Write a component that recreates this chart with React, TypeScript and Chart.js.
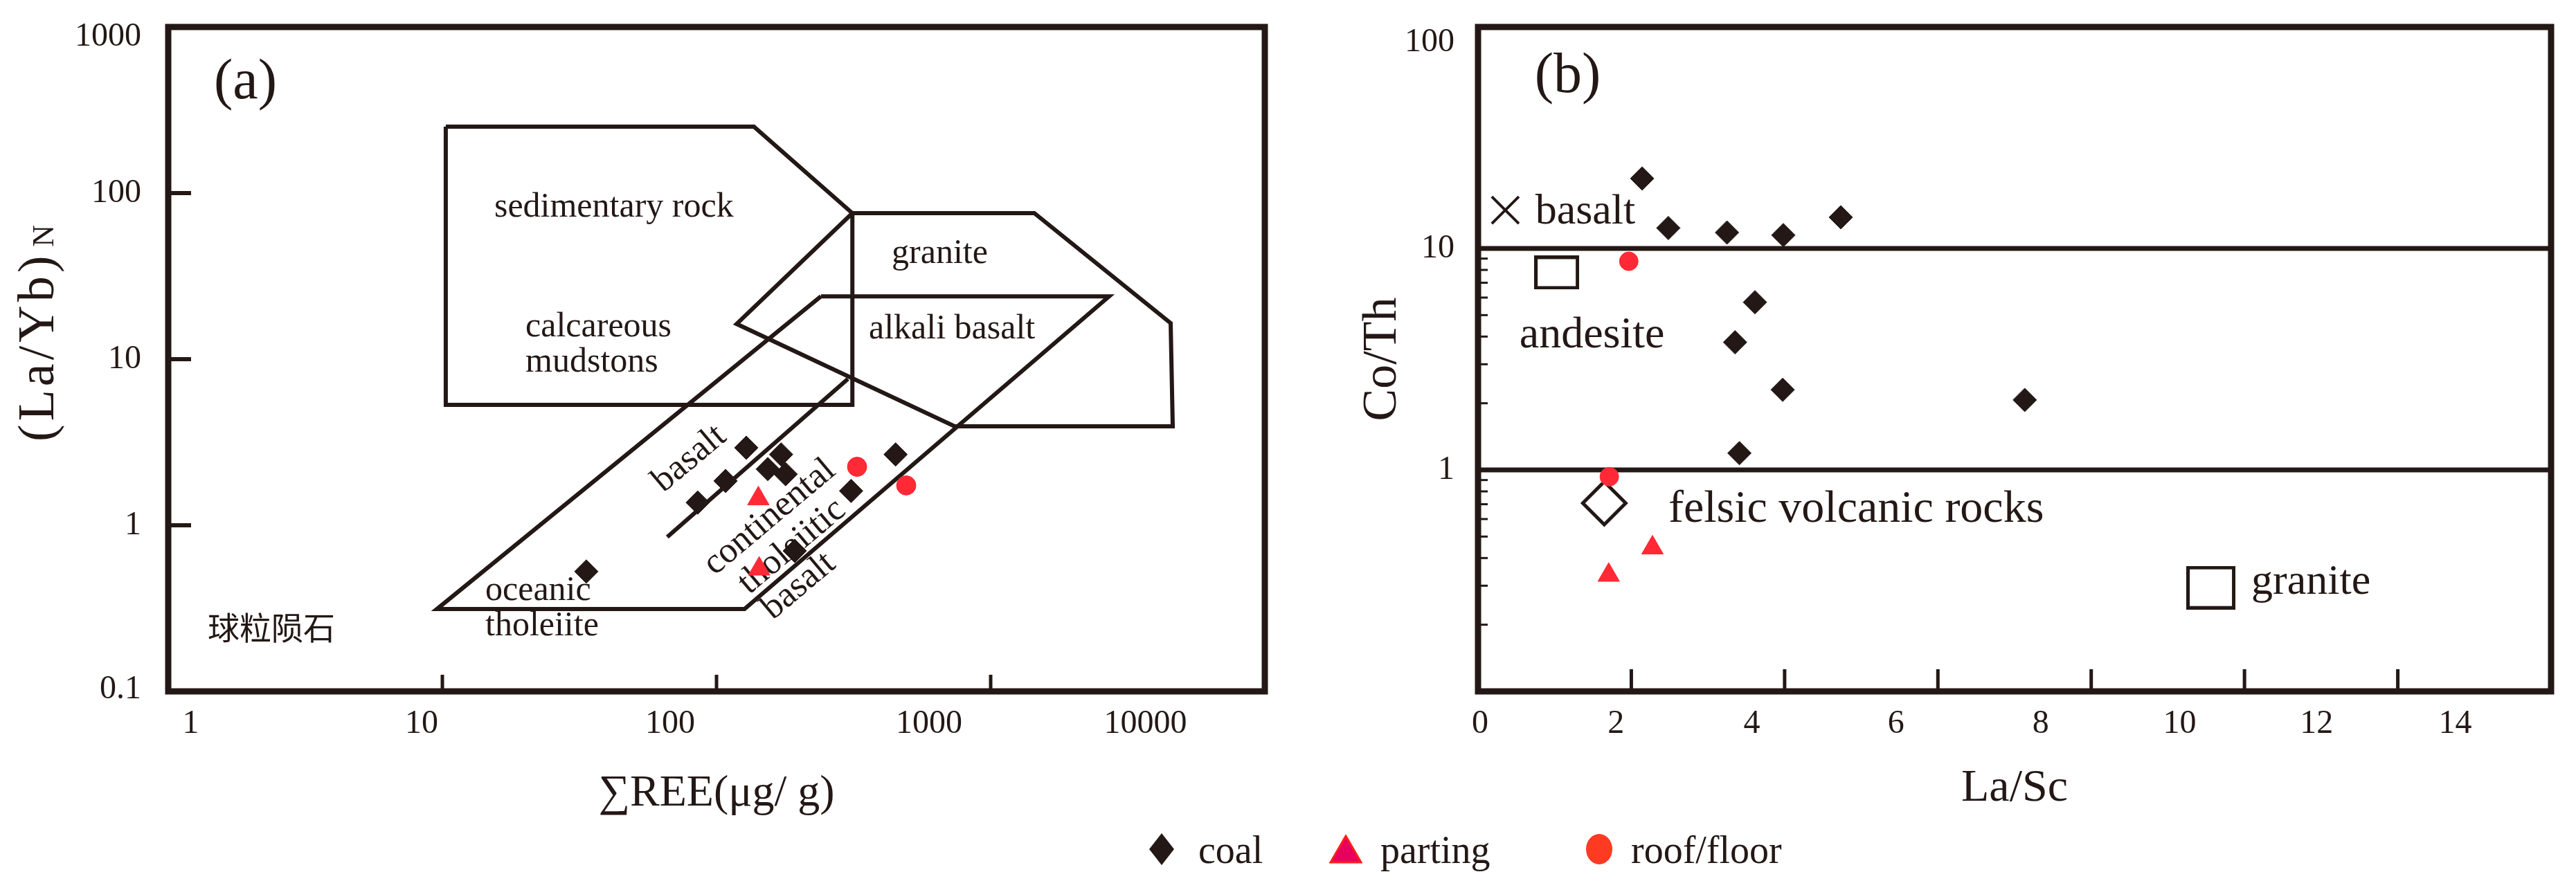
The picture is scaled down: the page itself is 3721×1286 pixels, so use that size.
import React, { useEffect, useRef } from 'react';
import { Chart, registerables } from 'chart.js';

Chart.register(...registerables);

const INK = '#231815';
const RED = '#ff2a36';
const FONT = '"Liberation Serif", "Times New Roman", serif';
const CJK = '"Noto Sans CJK SC", sans-serif';

// ---------------- Panel (a): ΣREE vs (La/Yb)N ----------------
const coalREE = [33.5, 85.4, 107.9, 128.4, 172, 153.8, 178.7, 450, 309.7, 192.9];
const coalLaYbN = [0.527, 1.37, 1.85, 2.93, 2.67, 2.18, 2.03, 2.67, 1.61, 0.701];
const partingREE = [142.1, 143.1];
const partingLaYbN = [1.446, 0.546];
const roofREE = [325.6, 492];
const roofLaYbN = [2.25, 1.738];

// field boundaries (ΣREE, (La/Yb)N)
const sedimentaryX = [10.29, 136.9, 313, 313, 10.29, 10.29];
const sedimentaryY = [251.2, 251.2, 75.7, 5.31, 5.31, 251.2];
const graniteFieldX = [313, 1443, 4535, 4615, 739, 118.4, 313];
const graniteFieldY = [75.7, 75.7, 16.47, 3.94, 3.94, 16.3, 75.7];
const basaltBandX = [240.5, 2704, 126.5, 9.55, 240.5];
const basaltBandY = [23.9, 23.9, 0.313, 0.313, 23.9];
const dividerX = [66.1, 301.5];
const dividerY = [0.849, 7.6];

const aXTickMarks = [10, 100, 1000];
const aXLabelPos = [1.208, 8.4, 67.7, 596, 3667];
const aXLabels = ['1', '10', '100', '1000', '10000'];
const aYTickMarks = [1, 10, 100];
const aYLabelPos = [0.103, 1, 10, 100, 873];
const aYLabels = ['0.1', '1', '10', '100', '1000'];

const aFieldNames = ['(a)', 'sedimentary rock', 'calcareous', 'mudstons', 'granite', 'alkali basalt', 'oceanic', 'tholeiite', '球粒陨石', 'basalt', 'continental', 'tholeiitic', 'basalt'];

// ---------------- Panel (b): La/Sc vs Co/Th ----------------
const coalLaSc = [2.141, 2.483, 3.248, 3.983, 4.733, 3.613, 3.353, 3.975, 3.41, 7.133];
const coalCoTh = [20.7, 12.37, 11.8, 11.49, 13.83, 5.72, 3.77, 2.3, 1.19, 2.07];
const partingLaSc = [2.276, 1.705];
const partingCoTh = [0.445, 0.335];
const roofLaSc = [1.967, 1.713];
const roofCoTh = [8.75, 0.932];

const refRocks = ['basalt', 'andesite', 'felsic volcanic rocks', 'granite'];
const refLaSc = [0.356, 1.026, 1.647, 9.561];
const refCoTh = [14.9, 7.78, 0.708, 0.294];
const boundaryCoTh = [10, 1];

const bXTickMarks = [2, 4, 6, 8, 10, 12];
const bXLabelPos = [0.027, 1.8, 3.572, 5.453, 7.342, 9.155, 10.94, 12.75];
const bXLabels = ['0', '2', '4', '6', '8', '10', '12', '14'];
const bYLabelPos = [1, 10, 85.4];
const bYLabels = ['1', '10', '100'];
const bYMinorTicks = [0.2, 0.3, 0.4, 0.5, 0.6, 0.7, 0.8, 0.9, 2, 3, 4, 5, 6, 7, 8, 9];

const groups = ['coal', 'parting', 'roof/floor'];

type Note = {
  text: string; x: number; y: number; size: number;
  rot?: number; align?: CanvasTextAlign; base?: CanvasTextBaseline; family?: string;
};

const aNotes: Note[] = [
  { text: aFieldNames[0], x: 1.468, y: 459.6, size: 82, base: 'middle' },
  { text: aFieldNames[1], x: 15.46, y: 72.5, size: 50 },
  { text: aFieldNames[2], x: 20.1, y: 13.68, size: 50 },
  { text: aFieldNames[3], x: 20.1, y: 8.4, size: 50 },
  { text: aFieldNames[4], x: 435.5, y: 38.1, size: 50 },
  { text: aFieldNames[5], x: 359.4, y: 13.34, size: 50 },
  { text: aFieldNames[6], x: 14.34, y: 0.355, size: 50 },
  { text: aFieldNames[7], x: 14.34, y: 0.218, size: 50 },
  { text: aFieldNames[8], x: 1.393, y: 0.2417, size: 46, base: 'middle', family: CJK },
  { text: aFieldNames[9], x: 79.7, y: 2.51, size: 52, rot: -40, align: 'center', base: 'middle' },
  { text: aFieldNames[10], x: 156.4, y: 1.117, size: 52, rot: -40, align: 'center', base: 'middle' },
  { text: aFieldNames[11], x: 188.5, y: 0.743, size: 52, rot: -40, align: 'center', base: 'middle' },
  { text: aFieldNames[12], x: 199.7, y: 0.43, size: 52, rot: -40, align: 'center', base: 'middle' },
];

const bNotes: Note[] = [
  { text: '(b)', x: 0.738, y: 59.2, size: 82, base: 'middle' },
  { text: refRocks[0], x: 0.747, y: 12.97, size: 62 },
  { text: refRocks[1], x: 0.54, y: 3.57, size: 64 },
  { text: refRocks[2], x: 2.483, y: 0.585, size: 66 },
  { text: refRocks[3], x: 10.09, y: 0.276, size: 62 },
];

const zip = (xs: number[], ys: number[]) => xs.map((x, i) => ({ x, y: ys[i] }));

function drawNotes(chart: any, notes: Note[]) {
  const ctx = chart.ctx as CanvasRenderingContext2D;
  const xs = chart.scales.x;
  const ys = chart.scales.y;
  notes.forEach((n) => {
    ctx.save();
    ctx.translate(xs.getPixelForValue(n.x), ys.getPixelForValue(n.y));
    if (n.rot) ctx.rotate((n.rot * Math.PI) / 180);
    ctx.font = `${n.size}px ${n.family || FONT}`;
    ctx.fillStyle = INK;
    ctx.textAlign = n.align || 'left';
    ctx.textBaseline = n.base || 'alphabetic';
    ctx.fillText(n.text, 0, 0);
    ctx.restore();
  });
}

function framePlugin(opts: {
  notes: Note[];
  xMarks: number[]; xMarkLen: number; xMarkW: number;
  yMarks: number[]; yMarkLen: number; yMarkW: number;
  yTitle?: boolean;
}) {
  return {
    id: 'frame',
    beforeDatasetsDraw(chart: any) {
      drawNotes(chart, opts.notes);
    },
    afterDatasetsDraw(chart: any) {
      const ctx = chart.ctx as CanvasRenderingContext2D;
      const { left, right, top, bottom } = chart.chartArea;
      const xs = chart.scales.x;
      const ys = chart.scales.y;
      ctx.save();
      ctx.strokeStyle = INK;
      ctx.lineCap = 'butt';
      ctx.lineWidth = opts.xMarkW;
      opts.xMarks.forEach((v) => {
        const px = xs.getPixelForValue(v);
        ctx.beginPath();
        ctx.moveTo(px, bottom);
        ctx.lineTo(px, bottom - opts.xMarkLen);
        ctx.stroke();
      });
      ctx.lineWidth = opts.yMarkW;
      opts.yMarks.forEach((v) => {
        const py = ys.getPixelForValue(v);
        ctx.beginPath();
        ctx.moveTo(left, py);
        ctx.lineTo(left + opts.yMarkLen, py);
        ctx.stroke();
      });
      ctx.lineWidth = 9;
      ctx.lineJoin = 'miter';
      ctx.strokeRect(left, top, right - left, bottom - top);
      ctx.restore();
    },
    afterDraw(chart: any) {
      if (!opts.yTitle) return;
      const ctx = chart.ctx as CanvasRenderingContext2D;
      ctx.save();
      ctx.translate(77, 638);
      ctx.rotate(-Math.PI / 2);
      ctx.fillStyle = INK;
      ctx.textAlign = 'left';
      ctx.textBaseline = 'alphabetic';
      ctx.font = `74px ${FONT}`;
      (ctx as any).letterSpacing = '5px';
      ctx.fillText('(La/Yb)', 0, 0);
      const w = ctx.measureText('(La/Yb)').width;
      (ctx as any).letterSpacing = '0px';
      ctx.font = `44px ${FONT}`;
      ctx.fillText('N', w + 8, 0);
      ctx.restore();
    },
  };
}

function makeRect(w: number, h: number, lw: number) {
  const c = document.createElement('canvas');
  c.width = w + lw;
  c.height = h + lw;
  const g = c.getContext('2d')!;
  g.strokeStyle = INK;
  g.lineWidth = lw;
  g.lineJoin = 'miter';
  g.strokeRect(lw / 2, lw / 2, w, h);
  return c;
}

const tickFont = { size: 48, family: FONT };

const fitX = (h: number) => (s: any) => {
  s.height = h;
  s.paddingLeft = 0;
  s.paddingRight = 0;
};
const fitY = (w: number) => (s: any) => {
  s.width = w;
  s.paddingTop = 0;
  s.paddingBottom = 0;
};

const fieldLine = { showLine: true, pointRadius: 0, borderColor: INK, borderWidth: 6, borderJoinStyle: 'miter', fill: false };

function configA(): any {
  return {
    type: 'scatter',
    data: {
      datasets: [
        { label: groups[0], data: zip(coalREE, coalLaYbN), pointStyle: 'rectRot', pointRadius: 17, backgroundColor: INK, borderColor: INK, borderWidth: 1 },
        { label: groups[1], data: zip(partingREE, partingLaYbN), pointStyle: 'triangle', pointRadius: 18, backgroundColor: RED, borderColor: RED, borderWidth: 1 },
        { label: groups[2], data: zip(roofREE, roofLaYbN), pointStyle: 'circle', pointRadius: 14, backgroundColor: RED, borderColor: RED, borderWidth: 1 },
        { label: 'sedimentary', data: zip(sedimentaryX, sedimentaryY), ...fieldLine },
        { label: 'granite field', data: zip(graniteFieldX, graniteFieldY), ...fieldLine },
        { label: 'basalt band', data: zip(basaltBandX, basaltBandY), ...fieldLine },
        { label: 'divider', data: zip(dividerX, dividerY), ...fieldLine },
      ],
    },
    options: {
      responsive: false,
      animation: false,
      devicePixelRatio: 1,
      layout: { padding: { left: 0, top: 39, right: 73, bottom: 0 } },
      plugins: { legend: { display: false }, tooltip: { enabled: false } },
      scales: {
        x: {
          type: 'logarithmic', min: 1, max: 10000, position: 'bottom',
          afterBuildTicks: (s: any) => { s.ticks = aXLabelPos.map((v) => ({ value: v })); },
          afterFit: fitX(201),
          ticks: { autoSkip: false, maxRotation: 0, minRotation: 0, padding: 19, font: tickFont, color: INK, callback: (_v: any, i: number) => aXLabels[i] },
          grid: { display: false, drawTicks: false },
          border: { display: false },
          title: { display: true, text: '∑REE(μg/ g)', color: INK, font: { size: 64, family: FONT }, padding: { top: 0, bottom: 14 } },
        },
        y: {
          type: 'logarithmic', min: 0.1, max: 1000, position: 'left',
          afterBuildTicks: (s: any) => { s.ticks = aYLabelPos.map((v) => ({ value: v })); },
          afterFit: fitY(243),
          ticks: { autoSkip: false, padding: 39, font: tickFont, color: INK, callback: (_v: any, i: number) => aYLabels[i] },
          grid: { display: false, drawTicks: false },
          border: { display: false },
        },
      },
    },
    plugins: [framePlugin({ notes: aNotes, xMarks: aXTickMarks, xMarkLen: 24, xMarkW: 5, yMarks: aYTickMarks, yMarkLen: 33, yMarkW: 6, yTitle: true })],
  };
}

function configB(): any {
  const andesiteBox = makeRect(60, 44, 5);
  const graniteBox = makeRect(66, 58, 5);
  return {
    type: 'scatter',
    data: {
      datasets: [
        { label: groups[0], data: zip(coalLaSc, coalCoTh), pointStyle: 'rectRot', pointRadius: 17, backgroundColor: INK, borderColor: INK, borderWidth: 1 },
        { label: groups[1], data: zip(partingLaSc, partingCoTh), pointStyle: 'triangle', pointRadius: 18, backgroundColor: RED, borderColor: RED, borderWidth: 1 },
        { label: groups[2], data: zip(roofLaSc, roofCoTh), pointStyle: 'circle', pointRadius: 13.5, backgroundColor: RED, borderColor: RED, borderWidth: 1 },
        { label: refRocks[0], data: [{ x: refLaSc[0], y: refCoTh[0] }], pointStyle: 'crossRot', pointRadius: 27.6, borderColor: INK, borderWidth: 4 },
        { label: refRocks[1], data: [{ x: refLaSc[1], y: refCoTh[1] }], pointStyle: andesiteBox, pointRadius: 30 },
        { label: refRocks[2], data: [{ x: refLaSc[2], y: refCoTh[2] }], pointStyle: 'rectRot', pointRadius: 31, backgroundColor: '#ffffff', borderColor: INK, borderWidth: 5 },
        { label: refRocks[3], data: [{ x: refLaSc[3], y: refCoTh[3] }], pointStyle: graniteBox, pointRadius: 33 },
        { label: 'Co/Th = 10', data: [{ x: 0, y: boundaryCoTh[0] }, { x: 14, y: boundaryCoTh[0] }], showLine: true, pointRadius: 0, borderColor: INK, borderWidth: 7 },
        { label: 'Co/Th = 1', data: [{ x: 0, y: boundaryCoTh[1] }, { x: 14, y: boundaryCoTh[1] }], showLine: true, pointRadius: 0, borderColor: INK, borderWidth: 7 },
      ],
    },
    options: {
      responsive: false,
      animation: false,
      devicePixelRatio: 1,
      layout: { padding: { left: 0, top: 39, right: 30, bottom: 0 } },
      plugins: { legend: { display: false }, tooltip: { enabled: false } },
      scales: {
        x: {
          type: 'linear', min: 0, max: 14, position: 'bottom',
          afterBuildTicks: (s: any) => { s.ticks = bXLabelPos.map((v) => ({ value: v })); },
          afterFit: fitX(201),
          ticks: { autoSkip: false, maxRotation: 0, minRotation: 0, padding: 19, font: tickFont, color: INK, callback: (_v: any, i: number) => bXLabels[i] },
          grid: { display: false, drawTicks: false },
          border: { display: false },
          title: { display: true, text: 'La/Sc', color: INK, font: { size: 66, family: FONT }, padding: { top: 0, bottom: 21 } },
        },
        y: {
          type: 'logarithmic', min: 0.1, max: 100, position: 'left',
          afterBuildTicks: (s: any) => { s.ticks = bYLabelPos.map((v) => ({ value: v })); },
          afterFit: fitY(235),
          ticks: { autoSkip: false, padding: 34, font: tickFont, color: INK, callback: (_v: any, i: number) => bYLabels[i] },
          grid: { display: false, drawTicks: false },
          border: { display: false },
          title: { display: true, text: 'Co/Th', color: INK, font: { size: 70, family: FONT }, padding: { top: 56, bottom: 0 } },
        },
      },
    },
    plugins: [framePlugin({ notes: bNotes, xMarks: bXTickMarks, xMarkLen: 32, xMarkW: 5, yMarks: bYMinorTicks, yMarkLen: 14, yMarkW: 3 })],
  };
}

export default function App() {
  const refA = useRef<HTMLCanvasElement>(null);
  const refB = useRef<HTMLCanvasElement>(null);

  useEffect(() => {
    const a = new Chart(refA.current as HTMLCanvasElement, configA());
    const b = new Chart(refB.current as HTMLCanvasElement, configB());
    return () => {
      a.destroy();
      b.destroy();
    };
  }, []);

  const textStyle: React.CSSProperties = {
    position: 'absolute', top: 1200, fontFamily: FONT, fontSize: 56, lineHeight: '56px', color: INK, whiteSpace: 'nowrap',
  };

  return (
    <div style={{ position: 'absolute', left: 0, top: 0, width: 3721, height: 1286, background: '#ffffff', overflow: 'hidden' }}>
      <canvas ref={refA} width={1900} height={1200} style={{ position: 'absolute', left: 0, top: 0, width: 1900, height: 1200 }} />
      <canvas ref={refB} width={1821} height={1200} style={{ position: 'absolute', left: 1900, top: 0, width: 1821, height: 1200 }} />
      <svg style={{ position: 'absolute', left: 1660, top: 1204 }} width={36} height={46}>
        <polygon points="18,0 36,23 18,46 0,23" fill={INK} />
      </svg>
      <span style={{ ...textStyle, left: 1731 }}>{groups[0]}</span>
      <svg style={{ position: 'absolute', left: 1920, top: 1206 }} width={48} height={42}>
        <polygon points="24,2 46,40 2,40" fill="#e8005f" stroke="#ff1e1e" strokeWidth={3} />
      </svg>
      <span style={{ ...textStyle, left: 1994 }}>{groups[1]}</span>
      <svg style={{ position: 'absolute', left: 2291, top: 1205 }} width={38} height={44}>
        <ellipse cx={19} cy={22} rx={19} ry={22} fill="#ff3a22" />
      </svg>
      <span style={{ ...textStyle, left: 2356 }}>{groups[2]}</span>
    </div>
  );
}
